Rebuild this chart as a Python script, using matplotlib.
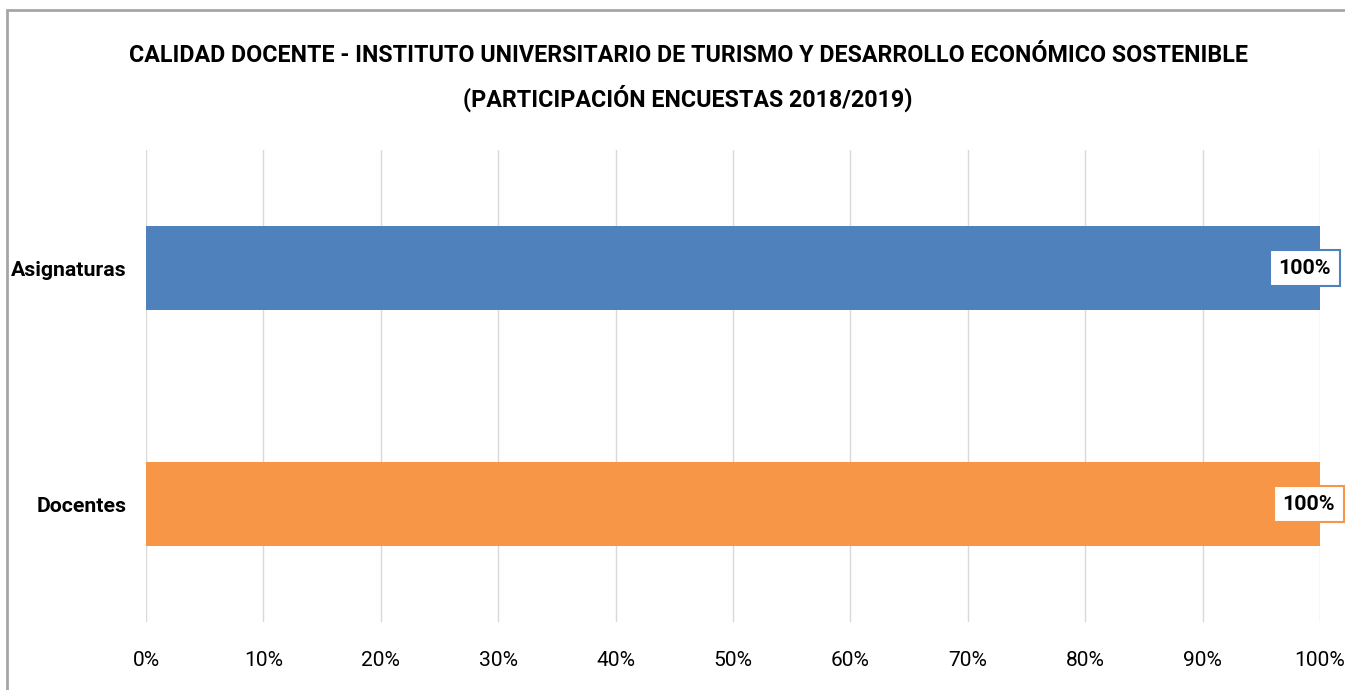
import matplotlib
matplotlib.use("Agg")
import matplotlib.pyplot as plt
from matplotlib.patches import Rectangle
from matplotlib.ticker import PercentFormatter

categories = ["Docentes", "Asignaturas"]
values = [100, 100]
colors = ["#F79646", "#4F81BD"]
xticks = list(range(0, 101, 10))
title_lines = ["CALIDAD DOCENTE - INSTITUTO UNIVERSITARIO DE TURISMO Y DESARROLLO ECONÓMICO SOSTENIBLE",
               "(PARTICIPACIÓN ENCUESTAS 2018/2019)"]

plt.rcParams['font.family'] = ['Roboto', 'DejaVu Sans']

W, H = 1345, 690
fig = plt.figure(figsize=(W / 100, H / 100), dpi=100)
renderer = fig.canvas.get_renderer()


def fit(txt, target_px):
    # shrink/grow font so the text spans about target_px pixels
    w = txt.get_window_extent(renderer).width
    txt.set_fontsize(txt.get_fontsize() * target_px / w)


# outer chart border (cropped at right and bottom)
fig.patches.append(Rectangle((7 / W, -0.1), 2, 1 - 10 / H + 0.1, transform=fig.transFigure,
                             fill=False, edgecolor="#A6A6A6", linewidth=2))

ax = fig.add_axes([146 / W, 1 - 622 / H, (1320 - 146) / W, (622 - 150) / H])
ax.barh(range(len(categories)), values, height=0.355, color=colors, zorder=2)
ax.set_xlim(0, 100)
ax.set_ylim(-0.5, 1.5)
ax.set_xticks(xticks)
ax.xaxis.set_major_formatter(PercentFormatter(decimals=0))
ax.set_yticks(range(len(categories)))
ax.set_yticklabels(categories, fontsize=15, fontweight="bold")
ax.tick_params(axis="x", labelsize=15, length=0, pad=21)
ax.tick_params(axis="y", length=0, pad=14)
ax.grid(axis="x", color="#D9D9D9", linewidth=1, zorder=0)
for s in ax.spines.values():
    s.set_visible(False)

fig.canvas.draw()
for lab in ax.get_yticklabels():
    if lab.get_text() == "Asignaturas":
        k = 1.1 * 106 / lab.get_window_extent(renderer).width
for lab in ax.get_yticklabels():
    lab.set_fontsize(15 * k)
for lab in ax.get_xticklabels():
    if lab.get_text().startswith("100"):
        kx = 1.1 * 46 / lab.get_window_extent(renderer).width
ax.tick_params(axis="x", labelsize=15 * kx)

for i, (v, c) in enumerate(zip(values, colors)):
    t = ax.annotate(f"{v}%", (v, i), xytext=(-11 + 3 * (i == 0), 0), textcoords="offset points",
                    ha="center", va="center", fontsize=15, fontweight="bold",
                    bbox=dict(boxstyle="square,pad=0.42", fc="white", ec=c, lw=1.5), zorder=3,
                    annotation_clip=False)
    fit(t, 1.1 * 48)

t1 = fig.text(688 / W, 1 - 56 / H, title_lines[0], ha="center", va="center", fontsize=19,
              fontweight="bold")
fit(t1, 1.06 * 1053)
t2 = fig.text(688 / W, 1 - 98 / H, title_lines[1], ha="center", va="center",
              fontsize=t1.get_fontsize(), fontweight="bold")

fig.savefig("out.png", dpi=100)
